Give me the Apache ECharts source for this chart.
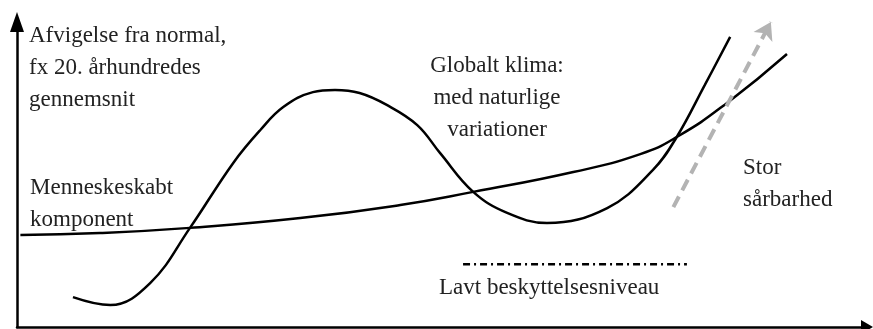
<!DOCTYPE html>
<html>
<head>
<meta charset="utf-8">
<script src="https://cdn.jsdelivr.net/npm/echarts@6/dist/echarts.min.js"></script>
<style>
  html, body { margin: 0; padding: 0; background: #fff; }
  #chart { width: 873px; height: 329px; }
</style>
</head>
<body>
<div id="chart"></div>
<script>
// naturlige variationer (x = tid, y = afvigelse, vilkaarlige enheder)
const naturX = [6.6, 11.0, 15.7, 20.4, 25.5, 28.7, 31.4, 34.9, 37.5, 40.4, 43.6, 47.2, 49.9, 53.8, 57.8, 62.5, 69.6, 75.0, 77.8, 81.1, 84.1];
const naturY = [9.8, 7.2, 14.4, 32.5, 53.8, 64.6, 72.1, 77.0, 77.7, 76.7, 72.8, 66.2, 57.0, 44.3, 37.4, 34.1, 39.0, 51.5, 62.3, 79.3, 95.1];
// menneskeskabt komponent
const menneskeX = [0.4, 9.8, 20.4, 33.4, 45.2, 53.8, 65.6, 73.5, 77.8, 83.7, 90.8];
const menneskeY = [30.2, 30.8, 32.5, 35.7, 40.0, 44.3, 50.8, 56.7, 62.3, 73.4, 89.5];
// stor saarbarhed pil (start, slut)
const pilX = [77.4, 88.9];
const pilY = [39.3, 100];
// lavt beskyttelsesniveau
const niveauX = [52.6, 79.0];
const niveauY = [20.6, 20.6];

const zip = (xs, ys) => xs.map((x, i) => [x, ys[i]]);

const chart = echarts.init(document.getElementById('chart'));
const font = '23px "Liberation Serif", serif';
const txtColor = '#222';

const option = {
    animation: false,
    grid: { left: 17, right: 8, top: 22, bottom: 2 },
    xAxis: {
        type: 'value', min: 0, max: 100,
        splitLine: { show: false }, axisTick: { show: false }, axisLabel: { show: false },
        axisLine: { show: true, symbol: ['none', 'triangle'], symbolSize: [14, 12], symbolOffset: [0, 2],
            lineStyle: { color: '#000', width: 2.5 } }
    },
    yAxis: {
        type: 'value', min: 0, max: 100,
        splitLine: { show: false }, axisTick: { show: false }, axisLabel: { show: false },
        axisLine: { show: true, symbol: ['none', 'triangle'], symbolSize: [14, 20], symbolOffset: [0, 0],
            lineStyle: { color: '#000', width: 2.5 } }
    },
    series: [
        {
            name: 'Menneskeskabt', type: 'line', smooth: 0.5, showSymbol: false,
            data: zip(menneskeX, menneskeY),
            lineStyle: { color: '#000', width: 2.5 }
        },
        {
            name: 'Globalt klima', type: 'line', smooth: 0.4, showSymbol: false,
            data: zip(naturX, naturY),
            lineStyle: { color: '#000', width: 2.5 }
        },
        {
            name: 'Beskyttelse', type: 'line', showSymbol: false,
            data: zip(niveauX, niveauY),
            lineStyle: { color: '#000', width: 2.5, type: [7, 4, 2, 4] }
        },
        {
            name: 'Pil', type: 'line', showSymbol: false, clip: false,
            data: zip(pilX, pilY),
            lineStyle: { opacity: 0 },
            markLine: {
                silent: true, symbol: ['none', 'arrow'], symbolSize: [16, 17],
                label: { show: false },
                lineStyle: { color: '#b3b3b3', width: 4, type: [12, 7] },
                data: [[{ coord: [pilX[0], pilY[0]] }, { coord: [pilX[1], pilY[1]] }]]
            }
        }
    ],
    graphic: [
        { type: 'text', x: 29, y: 20, style: { text: 'Afvigelse fra normal,\nfx 20. århundredes\ngennemsnit', font: font, fill: txtColor, lineHeight: 32, verticalAlign: 'top' } },
        { type: 'text', x: 497, y: 50, style: { text: 'Globalt klima:\nmed naturlige\nvariationer', font: font, fill: txtColor, lineHeight: 32, align: 'center', verticalAlign: 'top' } },
        { type: 'text', x: 30, y: 172, style: { text: 'Menneskeskabt\nkomponent', font: font, fill: txtColor, lineHeight: 32, verticalAlign: 'top' } },
        { type: 'text', x: 743, y: 152, style: { text: 'Stor\nsårbarhed', font: font, fill: txtColor, lineHeight: 32, verticalAlign: 'top' } },
        { type: 'text', x: 439, y: 272, style: { text: 'Lavt beskyttelsesniveau', font: font, fill: txtColor, lineHeight: 32, verticalAlign: 'top' } }
    ]
};
chart.setOption(option);
window.addEventListener('resize', () => chart.resize());
</script>
</body>
</html>
